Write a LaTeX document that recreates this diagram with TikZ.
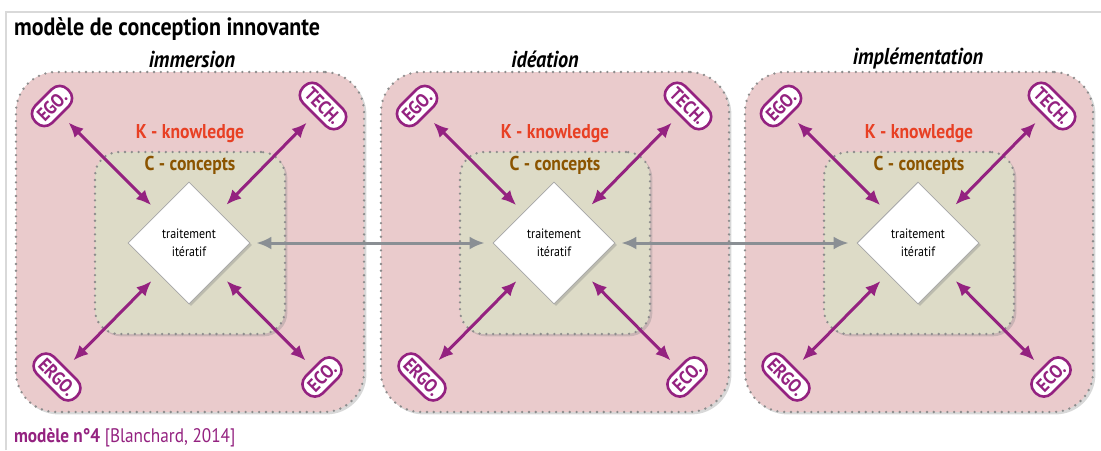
\documentclass[tikz,border=0pt]{standalone}
\usepackage{fontspec}
\setmainfont{PT Sans}[FakeStretch=0.88]
\usetikzlibrary{arrows.meta,shapes.geometric,shadows}
\definecolor{kpink}{HTML}{EACBCC}
\definecolor{cbeige}{HTML}{DDDBC7}
\definecolor{kpurple}{HTML}{942280}
\definecolor{kred}{HTML}{E84024}
\definecolor{cbrown}{HTML}{8B5400}
\definecolor{dotgray}{HTML}{8C8C8C}
\definecolor{passgray}{HTML}{8A8F94}
\tikzset{
  phase/.style={rounded corners=20pt, draw=dotgray, line width=1.3pt, dash pattern=on 0pt off 3.4pt, line cap=round, fill=kpink, minimum width=174pt, minimum height=170pt, drop shadow={opacity=0.3, shadow xshift=1.2pt, shadow yshift=-1.2pt}},
  ctx/.style={rounded corners=12pt, draw=dotgray, line width=1.3pt, dash pattern=on 0pt off 3.4pt, line cap=round, fill=cbeige, minimum width=95pt, minimum height=91pt, drop shadow={opacity=0.3, shadow xshift=1.2pt, shadow yshift=-1.2pt}},
  treat/.style={diamond, aspect=1, draw=gray!70, thin, fill=white, minimum size=61pt, inner sep=0pt, align=center, font=\fontsize{6.8}{9}\selectfont, drop shadow={opacity=0.35, shadow xshift=1pt, shadow yshift=-1pt}},
  badge/.style={rounded corners=5.5pt, draw=kpurple, line width=1.3pt, fill=white, text=kpurple, font=\bfseries\fontsize{9.5}{9.5}\selectfont, inner xsep=3pt, inner ysep=1.5pt, minimum height=12pt},
  phasetitle/.style={font=\bfseries\itshape\fontsize{11.5}{13}\selectfont},
  klabel/.style={text=kred, font=\bfseries\fontsize{10}{12}\selectfont},
  clabel/.style={text=cbrown, font=\bfseries\fontsize{10}{12}\selectfont},
  link/.style={{Latex[length=7.5pt,width=6.5pt]}-{Latex[length=7.5pt,width=6.5pt]}, line width=1.5pt, kpurple, shorten <=5pt, shorten >=5pt},
  pass/.style={{Latex[length=7.5pt,width=6.5pt]}-{Latex[length=7.5pt,width=6.5pt]}, line width=1.5pt, passgray, shorten <=3pt, shorten >=4pt}
}
\begin{document}
\begin{tikzpicture}[x=0.5pt, y=-0.5pt]
  \useasboundingbox (0,0) rectangle (1101,450);
  \fill[white] (0,0) rectangle (1101,450);
  \draw[gray!30, line width=1.2pt] (6,450) -- (6,12) -- (1101,12);
  \node[anchor=base west, font=\bfseries\fontsize{12.5}{14}\selectfont] (title) at (7,35) {modèle de conception innovante};
  % one panel per phase: box x, title x, title
  \foreach \i/\bx/\tx/\name in {1/190/192/immersion, 2/555/545/idéation, 3/919/918/implémentation} {
    \node[phase] (k\i) at (\bx,242) {};
    \node[ctx] (c\i) at (\bx,243) {};
    \node[phasetitle] (t\i) at (\tx,59) {\name};
    \node[klabel] (kl\i) at (\bx,134) {K - knowledge};
    \node[clabel] (cl\i) at (\bx,165) {C - concepts};
    \node[treat] (d\i) at (\bx-1,243) {traitement\\itératif};
    \node[badge, rotate=45] (ego\i) at (\bx-138,106) {EGO.};
    \node[badge, rotate=-45] (tech\i) at (\bx+133,106) {TECH.};
    \node[badge, rotate=-45] (ergo\i) at (\bx-133,377) {ERGO.};
    \node[badge, rotate=45] (eco\i) at (\bx+132,377) {ECO.};
    \draw[link] (ego\i) -- (d\i);
    \draw[link] (tech\i) -- (d\i);
    \draw[link] (ergo\i) -- (d\i);
    \draw[link] (eco\i) -- (d\i);
  }
  \draw[pass] (d1) -- (d2);
  \draw[pass] (d2) -- (d3);
  \node[anchor=base west, text=kpurple, font=\fontsize{9.8}{11}\selectfont] (source) at (7,442) {\textbf{modèle n°4} [Blanchard, 2014]};
\end{tikzpicture}
\end{document}
